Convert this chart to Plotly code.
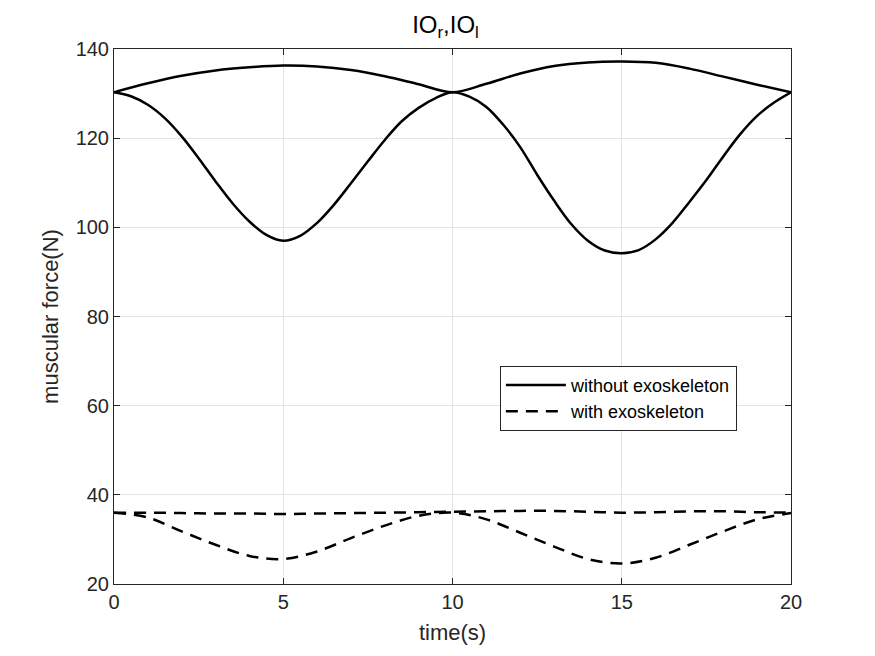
import plotly.graph_objects as go

# time axes (s)
t = list(range(21))
t_half = [i / 2 for i in range(41)]

# muscular force without exoskeleton
upper_without = [130.3, 132.3, 134.0, 135.2, 135.9, 136.3, 136.1, 135.3, 133.9, 132.1,
                 130.3, 132.2, 134.5, 136.2, 137.0, 137.2, 136.9, 135.6, 133.8, 132.0, 130.3]
lower_without = [130.3, 129.4, 127.5, 124.5, 120.4, 115.5, 110.3, 105.4, 101.3, 98.3,
                 97.0, 98.1, 101.0, 105.1, 109.9, 114.8, 119.6, 123.8, 126.8, 129.0,
                 130.3, 129.3, 127.0, 123.0, 118.0, 111.8, 106.0, 100.8, 97.0, 94.8,
                 94.2, 94.9, 97.3, 101.0, 105.7, 110.6, 115.9, 120.9, 125.0, 128.0, 130.3]

# muscular force with exoskeleton
upper_with = [36.0, 36.0, 35.9, 35.8, 35.8, 35.7, 35.8, 35.9, 36.0, 36.1,
              36.2, 36.3, 36.4, 36.4, 36.2, 36.0, 36.1, 36.3, 36.3, 36.1, 36.0]
lower_with = [36.0, 34.9, 31.8, 28.8, 26.3, 25.6, 27.3, 30.3, 33.1, 35.3,
              36.0, 34.5, 31.5, 28.4, 25.6, 24.6, 25.9, 28.8, 31.8, 34.5, 35.9]

x_ticks = [0, 5, 10, 15, 20]
y_ticks = [20, 40, 60, 80, 100, 120, 140]

FONT = 'Liberation Sans, Arial, sans-serif'
TXT = '#262626'
solid = dict(color='black', width=2.5)
dashed = dict(color='black', width=2.5, dash='12px,8px')

fig = go.Figure()
fig.add_trace(go.Scatter(x=t, y=upper_without, mode='lines', line=solid, line_shape='spline',
                         name='without exoskeleton', legendgroup='wo'))
fig.add_trace(go.Scatter(x=t_half, y=lower_without, mode='lines', line=solid, line_shape='spline',
                         name='without exoskeleton', legendgroup='wo', showlegend=False))
fig.add_trace(go.Scatter(x=t, y=upper_with, mode='lines', line=dashed, line_shape='spline',
                         name='with exoskeleton', legendgroup='w'))
fig.add_trace(go.Scatter(x=t, y=lower_with, mode='lines', line=dashed, line_shape='spline',
                         name='with exoskeleton', legendgroup='w', showlegend=False))

axis = dict(
    showline=True, linecolor='#262626', linewidth=1, mirror='ticks',
    ticks='inside', ticklen=6, tickcolor='#262626',
    showgrid=True, gridcolor='#e3e3e3', gridwidth=1,
    zeroline=False, tickfont=dict(size=20, color=TXT, family=FONT),
)

# the page body adds an 8px offset, margins are set so the plot box lands on the reference
fig.update_layout(
    width=875, height=656,
    plot_bgcolor='white', paper_bgcolor='white',
    margin=dict(l=106, r=92, t=41, b=80),
    font=dict(family=FONT, color=TXT),
    title=dict(text='IO<sub>r</sub>,IO<sub>l</sub>', x=0.5, xanchor='center',
               y=0.974, yanchor='middle', font=dict(size=24, color='black')),
    xaxis=dict(axis, range=[0, 20], tickvals=x_ticks,
               title=dict(text='time(s)', font=dict(size=22, color=TXT), standoff=12)),
    yaxis=dict(axis, range=[20, 140], tickvals=y_ticks,
               title=dict(text='muscular force(N)', font=dict(size=22, color=TXT), standoff=10)),
    legend=dict(x=0.570, y=0.408, xanchor='left', yanchor='top',
                bgcolor='white', bordercolor='#262626', borderwidth=1,
                font=dict(size=18, color='black'), tracegroupgap=0, itemwidth=60),
    showlegend=True,
)

fig.write_html('out.html')
